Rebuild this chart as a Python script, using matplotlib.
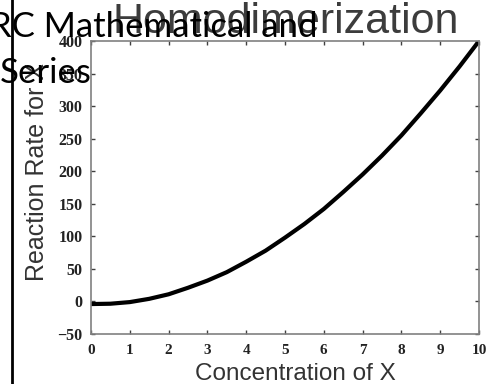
import matplotlib
matplotlib.use("Agg")
import matplotlib.pyplot as plt
from matplotlib.lines import Line2D

# values
conc = [0, 0.5, 1, 1.5, 2, 2.5, 3, 3.5, 4, 4.5, 5, 5.5, 6, 6.5, 7, 7.5, 8, 8.5, 9, 9.5, 10]
rate = [-4, -3.5, -1, 4, 11, 21, 32, 45, 61, 78, 98, 119, 142, 168, 195, 224, 255, 289, 324, 361, 400]
x_ticks = list(range(0, 11))
y_ticks = list(range(-50, 401, 50))

W, H = 499, 384
fig = plt.figure(figsize=(W / 100, H / 100), dpi=100)
ax = fig.add_axes([91 / W, 1 - 334 / H, (479 - 91) / W, (334 - 41) / H])

ax.plot(conc, rate, color="black", lw=3, solid_capstyle="butt")
ax.set_xlim(0, 10)
ax.set_ylim(-50, 400)
ax.set_xticks(x_ticks)
ax.set_yticks(y_ticks)

for s in ax.spines.values():
    s.set_color("#808080")
    s.set_linewidth(1.2)
ax.tick_params(direction="in", length=3, width=1, color="#404040",
               top=True, right=True, labeltop=False, labelright=False)
ax.tick_params(axis="x", pad=7)
ax.tick_params(axis="y", pad=6)
for lab in ax.get_xticklabels():
    lab.set_fontfamily("Liberation Serif")
    lab.set_fontweight("bold")
    lab.set_fontsize(11)
    lab.set_color("#222222")
for lab in ax.get_yticklabels():
    lab.set_fontfamily("Liberation Serif")
    lab.set_fontweight("bold")
    lab.set_fontsize(11.5)
    lab.set_color("#222222")

# title and axis labels
fig.text(286 / W, 1 - 33 / H, "Homodimerization", family="Liberation Sans",
         fontsize=31, color="#3c3c3c", ha="center", va="baseline")
fig.text(295 / W, 1 - 380 / H, "Concentration of X", family="Liberation Sans",
         fontsize=17.5, color="#333333", ha="center", va="baseline")
fig.text(25 / W, 1 - 172 / H, "Reaction Rate for X", family="Liberation Sans",
         fontsize=18, color="#333333", ha="left", va="center", rotation=90)

# overlaid text and frame line on the left
fig.text(-10 / W, 1 - 37 / H, "RC Mathematical and", family="Lato",
         fontsize=25, color="black", ha="left", va="baseline")
fig.text(0, 1 - 83 / H, "Series", family="Lato",
         fontsize=25, color="black", ha="left", va="baseline")
fig.add_artist(Line2D([11.5 / W, 11.5 / W], [0, 1], color="black", lw=2,
                      transform=fig.transFigure))

fig.savefig("out.png", dpi=100)
